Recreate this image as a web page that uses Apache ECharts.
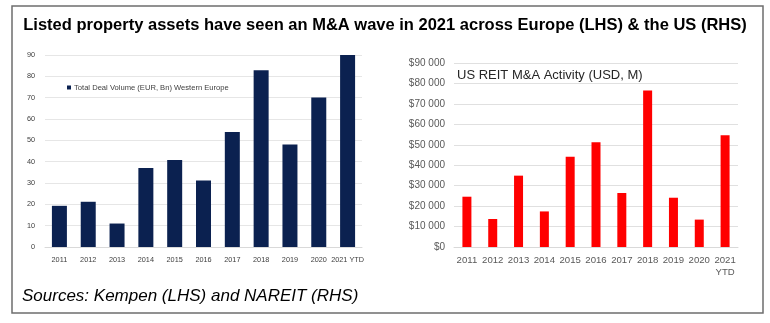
<!DOCTYPE html>
<html>
<head>
<meta charset="utf-8">
<script src="https://cdn.jsdelivr.net/npm/echarts@6/dist/echarts.min.js"></script>
<style>
  html, body { margin: 0; padding: 0; background: #fff; }
  #chart { width: 770px; height: 323px; }
</style>
</head>
<body>
<div id="chart"></div>
<script>
// Western Europe listed property deal volume (EUR bn)
const euYears = ['2011', '2012', '2013', '2014', '2015', '2016', '2017', '2018', '2019', '2020', '2021 YTD'];
const euVolume = [19.3, 21.2, 11, 37, 40.8, 31.2, 53.9, 82.9, 48.1, 70.1, 90];

// US REIT M&A activity (USD m)
const usYears = ['2011', '2012', '2013', '2014', '2015', '2016', '2017', '2018', '2019', '2020', '2021\nYTD'];
const usActivity = [24600, 13700, 34900, 17400, 44200, 51200, 26400, 76500, 24100, 13400, 54600];

const titleText = 'Listed property assets have seen an M&A wave in 2021 across Europe (LHS) & the US (RHS)';
const sourceText = 'Sources: Kempen (LHS) and NAREIT (RHS)';
const euSeriesName = 'Total Deal Volume (EUR, Bn) Western Europe';
const usTitle = 'US REIT M&A Activity (USD, M)';

const sans = '"Liberation Sans", Arial, sans-serif';

function dollars(v) {
  return '$' + String(v).replace(/\B(?=(\d{3})+(?!\d))/g, ' ');
}

const chart = echarts.init(document.getElementById('chart'), null, { renderer: 'canvas' });

chart.setOption({
  animation: false,
  backgroundColor: '#ffffff',
  textStyle: { fontFamily: sans },
  title: [
    {
      text: titleText,
      left: 'center',
      top: 17,
      padding: 0,
      textStyle: { fontFamily: sans, fontSize: 16.5, fontWeight: 'bold', color: '#000000' }
    },
    {
      text: usTitle,
      left: 457,
      top: 69,
      padding: 0,
      textStyle: { fontFamily: sans, fontSize: 13, fontWeight: 'normal', color: '#262626' }
    },
    {
      text: sourceText,
      left: 22,
      top: 288,
      padding: 0,
      textStyle: { fontFamily: sans, fontSize: 17, fontStyle: 'italic', fontWeight: 'normal', color: '#000000' }
    }
  ],
  legend: {
    data: [euSeriesName],
    left: 67,
    top: 83.5,
    padding: 0,
    icon: 'rect',
    itemWidth: 4,
    itemHeight: 4,
    itemGap: 3,
    textStyle: { fontFamily: sans, fontSize: 7.6, color: '#404040', padding: [0, 0, 0, -2] }
  },
  graphic: [
    {
      type: 'rect',
      shape: { x: 12, y: 6, width: 751, height: 307 },
      style: { fill: 'none', stroke: '#6e6e6e', lineWidth: 1.5 },
      silent: true
    }
  ],
  grid: [
    { left: 45, top: 55, width: 317, height: 192 },
    { left: 454, top: 63, width: 284, height: 184 }
  ],
  xAxis: [
    {
      type: 'category',
      gridIndex: 0,
      data: euYears,
      axisLine: { lineStyle: { color: '#d9d9d9' } },
      axisTick: { show: false },
      axisLabel: { fontFamily: sans, fontSize: 7.3, color: '#404040', margin: 9, interval: 0 }
    },
    {
      type: 'category',
      gridIndex: 1,
      data: usYears,
      axisLine: { lineStyle: { color: '#d9d9d9' } },
      axisTick: { show: false },
      axisLabel: { fontFamily: sans, fontSize: 9.6, color: '#595959', margin: 7, interval: 0, lineHeight: 12 }
    }
  ],
  yAxis: [
    {
      type: 'value',
      gridIndex: 0,
      min: 0,
      max: 90,
      interval: 10,
      axisLine: { show: false },
      axisTick: { show: false },
      splitLine: { lineStyle: { color: '#e6e6e6' } },
      axisLabel: { fontFamily: sans, fontSize: 7.3, color: '#404040', margin: 10 }
    },
    {
      type: 'value',
      gridIndex: 1,
      min: 0,
      max: 90000,
      interval: 10000,
      axisLine: { show: false },
      axisTick: { show: false },
      splitLine: { lineStyle: { color: '#e0e0e0' } },
      axisLabel: { fontFamily: sans, fontSize: 10, color: '#595959', margin: 9, formatter: dollars }
    }
  ],
  series: [
    {
      name: euSeriesName,
      type: 'bar',
      xAxisIndex: 0,
      yAxisIndex: 0,
      data: euVolume,
      barWidth: 15,
      itemStyle: { color: '#0b2150' }
    },
    {
      name: usTitle,
      type: 'bar',
      xAxisIndex: 1,
      yAxisIndex: 1,
      data: usActivity,
      barWidth: 9,
      itemStyle: { color: '#ff0000' }
    }
  ]
});
</script>
</body>
</html>
